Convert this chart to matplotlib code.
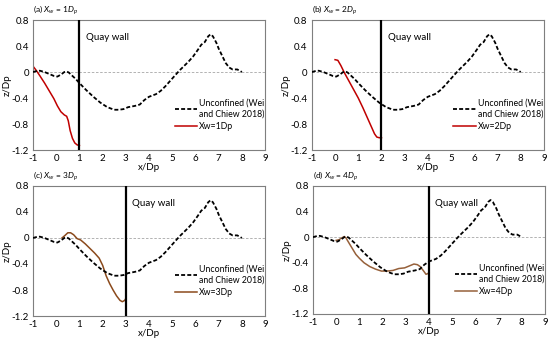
import numpy as np
import matplotlib
matplotlib.use('Agg')
from matplotlib import pyplot as plt

plt.rcParams['font.family'] = ['Lato', 'DejaVu Sans']
plt.rcParams['axes.unicode_minus'] = False
plt.rcParams['mathtext.fontset'] = 'custom'
plt.rcParams['mathtext.rm'] = 'Lato'
plt.rcParams['mathtext.it'] = 'Lato:italic'

# unconfined scour profile (Wei and Chiew 2018)
x_unc = [-1, -0.8, -0.7, -0.5, -0.3, -0.1, 0.05, 0.2, 0.35, 0.45, 0.55, 0.7, 0.85, 1.0,
         1.3, 1.6, 1.9, 2.2, 2.5, 2.7, 2.9, 3.1, 3.4, 3.6, 3.8, 4.0, 4.3, 4.5, 4.7,
         4.9, 5.1, 5.3, 5.5, 5.7, 5.9, 6.1, 6.25, 6.4, 6.55, 6.65, 6.75, 6.9, 7.0,
         7.15, 7.3, 7.45, 7.6, 7.8, 7.9, 8.0]
z_unc = [0.0, 0.02, 0.02, 0.0, -0.03, -0.06, -0.07, -0.04, 0.0, 0.01, -0.01, -0.06, -0.11, -0.17,
         -0.28, -0.38, -0.47, -0.54, -0.58, -0.58, -0.57, -0.54, -0.52, -0.5, -0.43, -0.38, -0.34, -0.29, -0.22,
         -0.14, -0.06, 0.02, 0.09, 0.16, 0.24, 0.34, 0.42, 0.46, 0.55, 0.58, 0.55, 0.45, 0.36,
         0.25, 0.14, 0.07, 0.04, 0.04, 0.02, 0.0]

# confined profiles for each quay wall position
x_w1 = [-1.0, -0.85, -0.7, -0.5, -0.3, -0.1, 0.05, 0.2, 0.35, 0.45, 0.52, 0.6, 0.7, 0.8, 0.9, 1.0]
z_w1 = [0.09, 0.02, -0.06, -0.17, -0.29, -0.41, -0.52, -0.61, -0.66, -0.68, -0.75, -0.9, -1.02, -1.09, -1.12, -1.13]

x_w2 = [0.0, 0.12, 0.25, 0.4, 0.6, 0.8, 1.0, 1.2, 1.4, 1.55, 1.7, 1.8, 1.9, 2.0]
z_w2 = [0.19, 0.18, 0.1, -0.01, -0.14, -0.27, -0.4, -0.55, -0.71, -0.83, -0.95, -1.0, -1.01, -1.01]

x_w3 = [0.25, 0.38, 0.5, 0.62, 0.75, 0.9, 1.05, 1.25, 1.45, 1.65, 1.85, 2.0, 2.15, 2.3, 2.45, 2.6, 2.75, 2.85, 2.95, 3.0]
z_w3 = [0.0, 0.04, 0.08, 0.08, 0.05, -0.01, -0.03, -0.09, -0.16, -0.23, -0.31, -0.42, -0.58, -0.7, -0.8, -0.89, -0.96, -0.98, -0.96, -0.93]

x_w4 = [0.0, 0.12, 0.25, 0.35, 0.42, 0.55, 0.7, 0.85, 1.0, 1.2, 1.45, 1.7, 1.95, 2.2, 2.45, 2.7, 2.95, 3.15, 3.35, 3.5, 3.62, 3.75, 3.87, 3.95, 4.0]
z_w4 = [-0.05, -0.04, -0.01, 0.01, -0.01, -0.09, -0.18, -0.27, -0.33, -0.4, -0.46, -0.5, -0.53, -0.53, -0.52, -0.49, -0.48, -0.45, -0.42, -0.43, -0.46, -0.52, -0.58, -0.57, -0.55]

walls = [1, 2, 3, 4]
panel_tags = ['(a)', '(b)', '(c)', '(d)']
confined_x = [x_w1, x_w2, x_w3, x_w4]
confined_z = [z_w1, z_w2, z_w3, z_w4]
line_colors = ['#c00000', '#c00000', '#8b4a1c', '#96603a']

fig = plt.figure(figsize=(5.5, 3.45), dpi=100)
positions = [[0.06, 0.565, 0.422, 0.377],
             [0.567, 0.565, 0.422, 0.377],
             [0.06, 0.084, 0.422, 0.377],
             [0.569, 0.09, 0.422, 0.371]]

for i in range(4):
    ax = fig.add_axes(positions[i])
    ax.axhline(0, color='#a6a6a6', lw=0.6, ls=(0, (3, 2)), zorder=1)
    ax.plot(x_unc, z_unc, color='black', lw=1.3, ls=(0, (2.2, 1.2)),
            label='Unconfined (Wei\nand Chiew 2018)', zorder=3)
    ax.plot(confined_x[i], confined_z[i], color=line_colors[i], lw=1.1,
            label='Xw=%dDp' % walls[i], zorder=2)
    ax.axvline(walls[i], color='black', lw=1.6, zorder=4)
    ax.text(walls[i] + 0.28, 0.53, 'Quay wall', fontsize=7, va='center')
    ax.set_xlim(-1, 9)
    ax.set_ylim(-1.2, 0.8)
    ax.set_xticks(range(-1, 10))
    ax.set_yticks([-1.2, -0.8, -0.4, 0, 0.4, 0.8])
    ax.set_yticklabels(['-1.2', '-0.8', '-0.4', '0', '0.4', '0.8'])
    ax.tick_params(labelsize=7, length=0, pad=3)
    for s in ax.spines.values():
        s.set_color('#7f7f7f')
        s.set_linewidth(0.8)
    ax.set_xlabel('x/Dp', fontsize=7, labelpad=0)
    ax.set_ylabel('z/Dp', fontsize=7, labelpad=0)
    ax.text(0.0, 1.025, panel_tags[i] + ' $X_w$ = %d$D_p$' % walls[i],
            transform=ax.transAxes, fontsize=6, ha='left', va='bottom')
    ax.legend(loc='upper left', bbox_to_anchor=(0.595, 0.42), frameon=False,
              fontsize=6.3, handlelength=2.6, handletextpad=0.2,
              labelspacing=0.45, borderaxespad=0)

plt.savefig('out.png', dpi=100)
